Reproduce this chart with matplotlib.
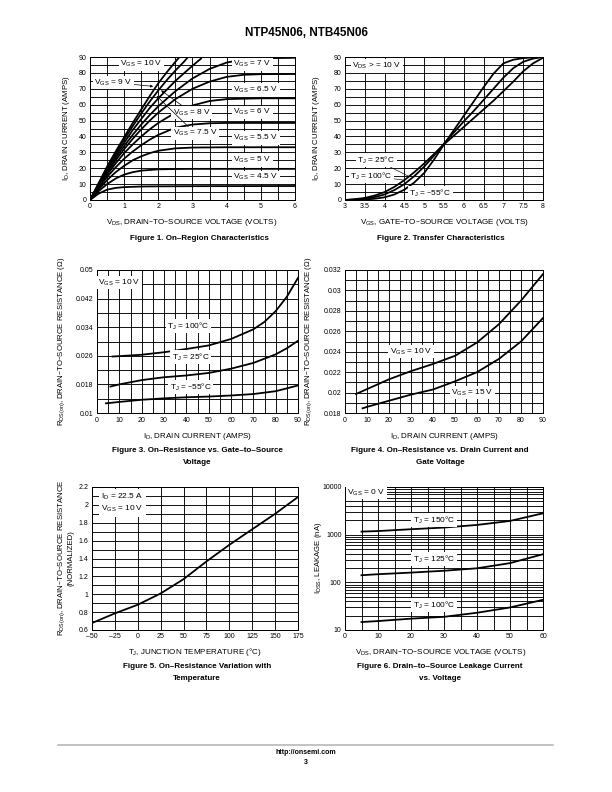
"""
NTP45N06 datasheet page 3 - six typical characteristic curves
"""
import matplotlib.pyplot as plt
from matplotlib.ticker import NullFormatter

plt.rcParams['font.family'] = ['Liberation Sans', 'DejaVu Sans']
plt.rcParams['mathtext.default'] = 'regular'

# ---- Figure 1 : ID vs VDS, one curve per VGS ----
f1_vgs_labels = ['10', '9', '8', '7.5', '7', '6.5', '6', '5.5', '5', '4.5']
f1_vds = {
    '10': [0, 0.25, 0.5, 0.75, 1, 1.25, 1.5, 1.75, 2, 2.25, 2.5, 2.6],
    '9': [0, 0.25, 0.5, 0.75, 1, 1.25, 1.5, 1.75, 2, 2.25, 2.5, 2.75, 2.85],
    '8': [0, 0.25, 0.5, 0.75, 1, 1.25, 1.5, 1.75, 2, 2.5, 3, 3.25],
    '7.5': [0, 0.25, 0.5, 0.75, 1, 1.25, 1.5, 1.75, 2, 2.5, 3, 3.5, 4, 4.5, 5, 6],
    '7': [0, 0.25, 0.5, 0.75, 1, 1.25, 1.5, 1.75, 2, 2.5, 3, 3.5, 4, 4.5, 5, 6],
    '6.5': [0, 0.25, 0.5, 0.75, 1, 1.25, 1.5, 1.75, 2, 2.5, 3, 3.5, 4, 5, 6],
    '6': [0, 0.25, 0.5, 0.75, 1, 1.25, 1.5, 1.75, 2, 2.5, 3, 3.5, 4, 6],
    '5.5': [0, 0.25, 0.5, 0.75, 1, 1.25, 1.5, 1.75, 2, 2.5, 3, 4, 6],
    '5': [0, 0.25, 0.5, 0.75, 1, 1.25, 1.5, 2, 2.5, 3, 6],
    '4.5': [0, 0.25, 0.5, 0.75, 1, 1.5, 2, 3, 6],
}
f1_id = {
    '10': [0, 10.5, 21, 30.5, 39.5, 48.5, 57, 65.5, 73.5, 80.5, 87, 89.5],
    '9': [0, 10, 20, 29.5, 38, 46.5, 54.5, 62, 69, 75.5, 81.5, 87, 89.5],
    '8': [0, 9.5, 19, 28, 36, 44, 51, 58, 64, 75, 84.5, 89],
    '7.5': [0, 9, 18, 26.5, 34, 41, 47.5, 53.5, 59, 68.5, 76.5, 82.5, 86.5, 88.5, 89.2, 89.5],
    '7': [0, 8.5, 17, 25, 32, 38.5, 44.5, 50, 55, 63.5, 70, 74.5, 77.5, 78.8, 79.2, 79.3],
    '6.5': [0, 8, 16, 23, 29.5, 35, 40, 44.5, 48.5, 55, 59.5, 62.3, 63.5, 64, 64],
    '6': [0, 7.5, 14.5, 20.5, 26, 30.5, 34.5, 38, 41, 45.5, 47.5, 48.3, 48.5, 48.5],
    '5.5': [0, 6.5, 12.5, 17.5, 21.5, 25, 27.5, 29.5, 31, 32.5, 33, 33.2, 33.2],
    '5': [0, 5.5, 10, 13.5, 16, 17.5, 18.5, 19.3, 19.5, 19.6, 19.6],
    '4.5': [0, 4, 6.5, 7.6, 8.1, 8.5, 8.6, 8.7, 8.8],
}

# ---- Figure 2 : ID vs VGS at three temperatures ----
f2_vgs = [3, 3.25, 3.5, 3.75, 4, 4.25, 4.5, 4.75, 5, 5.25, 5.5, 5.75, 6,
          6.25, 6.5, 6.75, 7, 7.25, 7.5, 7.75, 8]
f2_id_100 = [0, 0.5, 1.3, 2.8, 5, 8.3, 12.5, 17.5, 23, 29, 35, 40.5, 46,
             51.5, 57, 62.5, 68.5, 74.5, 81, 86, 89.5]
f2_id_25 = [0, 0.3, 0.8, 1.8, 3.5, 6.3, 10, 15, 21, 28, 35.5, 42.5, 49.5,
            56, 63, 70, 77, 83, 87, 89, 90]
f2_id_m55 = [0, 0.1, 0.3, 0.8, 1.7, 3.5, 6.5, 11, 17, 25.5, 35, 44, 53,
             62, 71, 79.5, 86, 88.3, 89.3, 89.8, 90]

# ---- Figure 3 : RDS(on) vs ID, VGS = 10 V ----
f3_id_100 = [7, 10, 20, 30, 40, 50, 60, 70, 75, 80, 85, 90]
f3_r_100 = [0.0258, 0.0259, 0.0263, 0.0270, 0.0279, 0.0289, 0.0307, 0.0334,
            0.0355, 0.0385, 0.0425, 0.0478]
f3_id_25 = [6, 10, 20, 30, 40, 50, 60, 70, 80, 85, 90]
f3_r_25 = [0.0174, 0.0180, 0.0192, 0.0200, 0.0205, 0.0212, 0.0224, 0.0240,
           0.0264, 0.0281, 0.0302]
f3_id_m55 = [4, 10, 20, 30, 40, 50, 60, 70, 80, 90]
f3_r_m55 = [0.0127, 0.0131, 0.0137, 0.0141, 0.0144, 0.0146, 0.0149, 0.0153,
            0.0161, 0.0177]

# ---- Figure 4 : RDS(on) vs ID at VGS = 10 V / 15 V ----
f4_id_10 = [5, 10, 20, 30, 40, 50, 60, 70, 80, 90]
f4_r_10 = [0.01986, 0.02034, 0.0213, 0.0221, 0.0228, 0.0236, 0.0249, 0.0267,
           0.0290, 0.0316]
f4_id_15 = [8, 10, 20, 30, 40, 50, 60, 70, 80, 90]
f4_r_15 = [0.01846, 0.0186, 0.0192, 0.0198, 0.0203, 0.0211, 0.0220, 0.0233,
           0.0250, 0.0273]

# ---- Figure 5 : normalized RDS(on) vs TJ ----
f5_tj = [-50, -25, 0, 25, 50, 75, 100, 125, 150, 175]
f5_r = [0.678, 0.786, 0.883, 1.009, 1.169, 1.367, 1.553, 1.727, 1.90, 2.088]

# ---- Figure 6 : IDSS vs VDS ----
f6_vds = [5, 10, 20, 30, 40, 50, 60]
f6_i_150 = [1160, 1190, 1300, 1410, 1600, 1940, 2810]
f6_i_125 = [141, 148, 160, 175, 197, 253, 389]
f6_i_100 = [14.7, 15.4, 17.3, 18.9, 23, 29.7, 43]

W, H = 612, 792
fig = plt.figure(figsize=(W / 72, H / 72), dpi=72)

LW = 1.8       # curve width
FS_TICK = 7
FS_AX = 8      # axis titles
FS_IN = 8.3    # labels inside the plots
FS_CAP = 8     # figure captions


def rect(l, t, r, b):
    # pixel box -> figure fraction
    return [l / W, 1 - b / H, (r - l) / W, (b - t) / H]


def ftext(x, y, s, **kw):
    fig.text(x / W, 1 - y / H, s, ha='center', va='center', **kw)


def setup(ax, xlim, ylim, xticks, yticks, xgrid, ygrid, xlabels=None, ylabels=None):
    ax.set_xlim(xlim)
    ax.set_ylim(ylim)
    ax.set_xticks(xticks)
    ax.set_yticks(yticks)
    if xlabels is not None:
        ax.set_xticklabels(xlabels)
    if ylabels is not None:
        ax.set_yticklabels(ylabels)
    ax.set_xticks(xgrid, minor=True)
    if ygrid is not None:
        ax.set_yticks(ygrid, minor=True)
    ax.grid(True, which='both', color='black', lw=0.9)
    ax.set_axisbelow(True)
    ax.tick_params(which='both', length=0, labelsize=FS_TICK, pad=3.5)
    for s in ax.spines.values():
        s.set_linewidth(1.0)


bb = dict(fc='white', ec='none', pad=1.5)


def lab(ax, x, y, s, ha='center'):
    ax.text(x, y, s, fontsize=FS_IN, ha=ha, va='center', zorder=5, bbox=bb)


def halves(a, b, step):
    out = []
    v = a
    while v <= b + 1e-9:
        out.append(round(v, 6))
        v += step
    return out


# header
ftext(306, 33, 'NTP45N06, NTB45N06', fontsize=11.8, weight='bold')

# Figure 1
ax1 = fig.add_axes(rect(90, 57, 295, 200))
setup(ax1, (0, 6), (0, 90), range(0, 7), range(0, 91, 10),
      halves(0, 6, 0.5), halves(0, 90, 5))
for v in f1_vgs_labels:
    ax1.plot(f1_vds[v], f1_id[v], color='black', lw=LW, zorder=3)
lab(ax1, 1.5, 85.5, '$V_{GS}$ = 10 V')
for txt, y in [('7', 85.4), ('6.5', 69.2), ('6', 55.3), ('5.5', 39), ('5', 25.2), ('4.5', 14.3)]:
    lab(ax1, 4.2, y, '$V_{GS}$ = %s V' % txt, ha='left')
arr = dict(arrowstyle='-|>', lw=0.7, color='black', mutation_scale=5, shrinkA=0, shrinkB=0)
ax1.annotate('$V_{GS}$ = 9 V', xy=(1.85, 71.5), xytext=(0.68, 74), fontsize=FS_IN,
             ha='center', va='center', bbox=bb, arrowprops=arr, zorder=5)
ax1.annotate('$V_{GS}$ = 8 V', xy=(2.08, 69), xytext=(2.42, 55), fontsize=FS_IN,
             ha='left', va='center', bbox=bb, arrowprops=arr, zorder=5)
ax1.annotate('$V_{GS}$ = 7.5 V', xy=(1.95, 65.5), xytext=(2.42, 42), fontsize=FS_IN,
             ha='left', va='center', bbox=bb, arrowprops=arr, zorder=5)
ftext(66, 128, '$I_D$, DRAIN CURRENT (AMPS)', fontsize=FS_AX - 0.3, rotation=90)
ftext(192, 223, '$V_{DS}$, DRAIN–TO–SOURCE VOLTAGE (VOLTS)', fontsize=FS_AX)
ftext(199, 238, 'Figure 1. On–Region Characteristics', fontsize=FS_CAP, weight='bold')

# Figure 2
ax2 = fig.add_axes(rect(345, 57, 543, 200))
setup(ax2, (3, 8), (0, 90), halves(3, 8, 0.5), range(0, 91, 10),
      halves(3, 8, 0.5), halves(0, 90, 5),
      xlabels=['3', '3.5', '4', '4.5', '5', '5.5', '6', '6.5', '7', '7.5', '8'])
ax2.plot(f2_vgs, f2_id_100, color='black', lw=LW, zorder=3)
ax2.plot(f2_vgs, f2_id_25, color='black', lw=LW, zorder=3)
ax2.plot(f2_vgs, f2_id_m55, color='black', lw=LW, zorder=3)
lab(ax2, 3.81, 84.3, '$V_{DS}$ > = 10 V')
lead = dict(arrowstyle='-', lw=0.6, color='black', shrinkA=0, shrinkB=0)
ax2.annotate('$T_J$ = 25°C', xy=(4.6, 15), xytext=(3.79, 25.2), fontsize=FS_IN,
             ha='center', va='center', bbox=bb, arrowprops=lead, zorder=5)
ax2.annotate('$T_J$ = 100°C', xy=(4.5, 12.5), xytext=(3.66, 15.1), fontsize=FS_IN,
             ha='center', va='center', bbox=bb, arrowprops=lead, zorder=5)
lab(ax2, 5.15, 4.4, '$T_J$ = –55°C')
ftext(316, 128, '$I_D$, DRAIN CURRENT (AMPS)', fontsize=FS_AX - 0.3, rotation=90)
ftext(444, 223, '$V_{GS}$, GATE–TO–SOURCE VOLTAGE (VOLTS)', fontsize=FS_AX)
ftext(441, 238, 'Figure 2. Transfer Characteristics', fontsize=FS_CAP, weight='bold')

# Figure 3
ax3 = fig.add_axes(rect(97, 270, 298, 413))
setup(ax3, (0, 90), (0.01, 0.05), range(0, 91, 10),
      [0.01, 0.018, 0.026, 0.034, 0.042, 0.05], range(0, 91, 5),
      [0.01 + 0.004 * i for i in range(11)],
      ylabels=['0.01', '0.018', '0.026', '0.034', '0.042', '0.05'])
ax3.plot(f3_id_100, f3_r_100, color='black', lw=LW, zorder=3)
ax3.plot(f3_id_25, f3_r_25, color='black', lw=LW, zorder=3)
ax3.plot(f3_id_m55, f3_r_m55, color='black', lw=LW, zorder=3)
lab(ax3, 10, 0.0464, '$V_{GS}$ = 10 V')
lab(ax3, 41, 0.0343, '$T_J$ = 100°C')
lab(ax3, 42, 0.0256, '$T_J$ = 25°C')
lab(ax3, 42, 0.0172, '$T_J$ = –55°C')
ftext(62, 341, '$R_{DS(on)}$, DRAIN–TO–SOURCE RESISTANCE (Ω)', fontsize=FS_AX - 0.3, rotation=90)
ftext(197, 436, '$I_D$, DRAIN CURRENT (AMPS)', fontsize=FS_AX)
ftext(197, 451, 'Figure 3. On–Resistance vs. Gate–to–Source', fontsize=FS_CAP, weight='bold')
ftext(197, 462, 'Voltage', fontsize=FS_CAP, weight='bold')

# Figure 4
ax4 = fig.add_axes(rect(345, 270, 543, 413))
setup(ax4, (0, 90), (0.018, 0.032), range(0, 91, 10),
      [0.018 + 0.002 * i for i in range(8)], range(0, 91, 5),
      [0.018 + 0.001 * i for i in range(15)],
      ylabels=['0.018', '0.02', '0.022', '0.024', '0.026', '0.028', '0.03', '0.032'])
ax4.plot(f4_id_10, f4_r_10, color='black', lw=LW, zorder=3)
ax4.plot(f4_id_15, f4_r_15, color='black', lw=LW, zorder=3)
lab(ax4, 30, 0.024, '$V_{GS}$ = 10 V')
lab(ax4, 58, 0.0200, '$V_{GS}$ = 15 V')
ftext(309, 341, '$R_{DS(on)}$, DRAIN–TO–SOURCE RESISTANCE (Ω)', fontsize=FS_AX - 0.3, rotation=90)
ftext(444, 436, '$I_D$, DRAIN CURRENT (AMPS)', fontsize=FS_AX)
ftext(440, 451, 'Figure 4. On–Resistance vs. Drain Current and', fontsize=FS_CAP, weight='bold')
ftext(440, 462, 'Gate Voltage', fontsize=FS_CAP, weight='bold')

# Figure 5
ax5 = fig.add_axes(rect(92, 487, 298, 630))
setup(ax5, (-50, 175), (0.6, 2.2), range(-50, 176, 25),
      [0.6 + 0.2 * i for i in range(9)], range(-50, 176, 25),
      [0.6 + 0.1 * i for i in range(17)],
      xlabels=['–50', '–25', '0', '25', '50', '75', '100', '125', '150', '175'],
      ylabels=['0.6', '0.8', '1', '1.2', '1.4', '1.6', '1.8', '2', '2.2'])
ax5.plot(f5_tj, f5_r, color='black', lw=LW, zorder=3)
ax5.text(-40, 2.02, '$I_D$ = 22.5 A\n$V_{GS}$ = 10 V', fontsize=FS_IN, ha='left',
         va='center', linespacing=1.3, zorder=5, bbox=dict(fc='white', ec='none', pad=2.5))
ftext(62, 558, '$R_{DS(on)}$, DRAIN–TO–SOURCE RESISTANCE', fontsize=FS_AX - 0.3, rotation=90)
ftext(71, 558, '(NORMALIZED)', fontsize=FS_AX - 0.3, rotation=90)
ftext(195, 652, '$T_J$, JUNCTION TEMPERATURE (°C)', fontsize=FS_AX)
ftext(197, 667, 'Figure 5. On–Resistance Variation with', fontsize=FS_CAP, weight='bold')
ftext(197, 679, 'Temperature', fontsize=FS_CAP, weight='bold')

# Figure 6
ax6 = fig.add_axes(rect(345, 487, 543, 630))
ax6.set_yscale('log')
setup(ax6, (0, 60), (10, 10000), range(0, 61, 10), [10, 100, 1000, 10000],
      range(0, 61, 5), None,
      ylabels=['10', '100', '1000', '10000'])
ax6.yaxis.set_minor_formatter(NullFormatter())
ax6.plot(f6_vds, f6_i_150, color='black', lw=LW, zorder=3)
ax6.plot(f6_vds, f6_i_125, color='black', lw=LW, zorder=3)
ax6.plot(f6_vds, f6_i_100, color='black', lw=LW, zorder=3)
lab(ax6, 6.4, 7600, '$V_{GS}$ = 0 V')
lab(ax6, 27, 2030, '$T_J$ = 150°C')
lab(ax6, 27, 309, '$T_J$ = 125°C')
lab(ax6, 27, 33.5, '$T_J$ = 100°C')
ftext(318, 558, '$I_{DSS}$, LEAKAGE (nA)', fontsize=FS_AX - 0.3, rotation=90)
ftext(441, 652, '$V_{DS}$, DRAIN–TO–SOURCE VOLTAGE (VOLTS)', fontsize=FS_AX)
ftext(440, 667, 'Figure 6. Drain–to–Source Leakage Current', fontsize=FS_CAP, weight='bold')
ftext(440, 679, 'vs. Voltage', fontsize=FS_CAP, weight='bold')

# footer
fig.add_artist(plt.Line2D([58 / W, 553 / W], [1 - 745 / H, 1 - 745 / H],
                          color='#b0b0b0', lw=1.5))
ftext(306, 752, 'http://onsemi.com', fontsize=7, weight='bold')
ftext(306, 762, '3', fontsize=7, weight='bold')

fig.savefig('out.png', dpi=72)
